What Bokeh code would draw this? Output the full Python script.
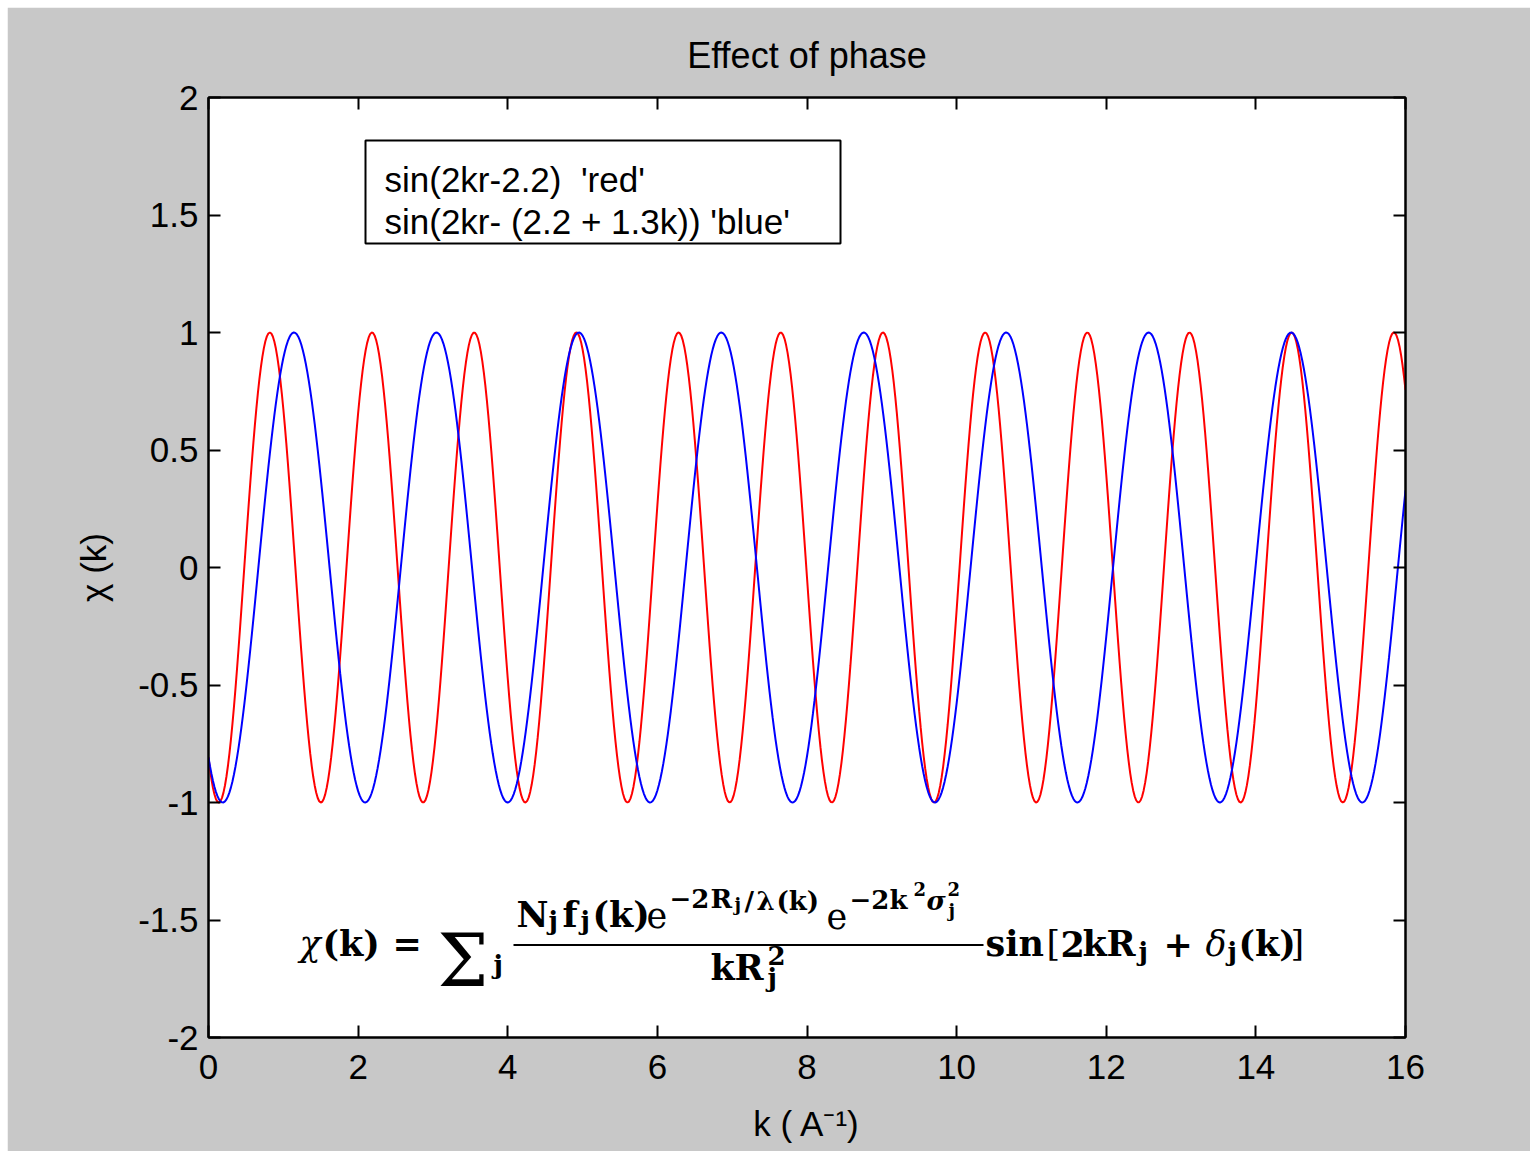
import numpy as np
from bokeh.plotting import figure
from bokeh.models import (Range1d, FixedTicker, LinearAxis, CustomJSTickFormatter,
                          Label, BoxAnnotation, ColumnDataSource)
from bokeh.embed import file_html
from bokeh.resources import INLINE

# ---------------- data ----------------
TITLE = "Effect of phase"
X_LABEL = "k ( A\u207b\u00b9)"
Y_LABEL = "\u03c7 (k)"
X_TICKS = [0, 2, 4, 6, 8, 10, 12, 14, 16]
Y_TICKS = [-2, -1.5, -1, -0.5, 0, 0.5, 1, 1.5, 2]
Y_TICK_LABELS = ["-2", "-1.5", "-1", "-0.5", "0", "0.5", "1", "1.5", "2"]
LEGEND_LINES = ["sin(2kr-2.2)\u00a0 'red'", "sin(2kr- (2.2 + 1.3k)) 'blue'"]

# parameters of the two plotted curves (as stated in the chart's legend box)
R_DIST = 2.3          # r
PHASE0 = 2.2          # constant phase
PHASE_SLOPE = 1.3     # k-dependent phase (blue)
K_MIN, K_MAX, K_STEP = 0.0, 16.0, 0.02

k = np.arange(K_MIN, K_MAX + K_STEP / 2, K_STEP)
red = np.sin(2 * k * R_DIST - PHASE0)
blue = np.sin(2 * k * R_DIST - (PHASE0 + PHASE_SLOPE * k))

# ---------------- layout ----------------
GRAY = "#c8c8c8"
FL, FR, FT, FB = 208, 1405, 97, 1037   # frame edges in page pixels
OFF = 7                                 # page margin

p = figure(frame_width=FR - FL, frame_height=FB - FT,
           min_border_left=FL - OFF, min_border_right=1530 - FR,
           min_border_top=FT - OFF, min_border_bottom=1151 - FB,
           x_range=Range1d(0, 16), y_range=Range1d(-2, 2),
           output_backend="svg", toolbar_location=None,
           background_fill_color="white", border_fill_color=GRAY,
           outline_line_color="black", outline_line_width=2)
p.margin = (OFF, OFF, OFF, OFF)
p.grid.visible = False

p.title.text = TITLE
p.title.align = "center"
p.title.text_font = "Liberation Sans"
p.title.text_font_style = "normal"
p.title.text_font_size = "36px"
p.title.text_color = "black"
p.title.standoff = 44


def style_axis(ax, ticks):
    ax.ticker = FixedTicker(ticks=ticks)
    ax.major_tick_in = 12
    ax.major_tick_out = 0
    ax.minor_tick_line_color = None
    ax.major_tick_line_width = 2
    ax.major_tick_line_color = "black"
    ax.axis_line_color = "black"
    ax.axis_line_width = 2
    ax.major_label_text_font = "Liberation Sans"
    ax.major_label_text_font_size = "35px"
    ax.major_label_text_color = "black"


style_axis(p.xaxis[0], X_TICKS)
style_axis(p.yaxis[0], Y_TICKS)
p.xaxis.major_label_standoff = 17
p.yaxis.major_label_standoff = 10
p.yaxis.major_label_overrides = {t: s for t, s in zip(Y_TICKS, Y_TICK_LABELS)}
p.xaxis.axis_label = X_LABEL
p.yaxis.axis_label = Y_LABEL
for ax in (p.xaxis[0], p.yaxis[0]):
    ax.axis_label_text_font = "Liberation Sans"
    ax.axis_label_text_font_style = "normal"
    ax.axis_label_text_font_size = "35px"
    ax.axis_label_text_color = "black"
p.xaxis.axis_label_standoff = 22
p.yaxis.axis_label_standoff = 22

blank = CustomJSTickFormatter(code="return ''")
top = LinearAxis(formatter=blank)
right = LinearAxis(formatter=blank)
style_axis(top, X_TICKS)
style_axis(right, Y_TICKS)
top.major_label_standoff = 0
right.major_label_standoff = 0
p.add_layout(top, "above")
p.add_layout(right, "right")

src = ColumnDataSource(dict(k=k, red=red, blue=blue))
p.line("k", "red", source=src, line_color="#ff0000", line_width=2)
p.line("k", "blue", source=src, line_color="#0000ff", line_width=2)


def X(px):
    return (px - FL) / (FR - FL) * 16.0


def Y(py):
    return 2.0 - (py - FT) / (FB - FT) * 4.0


# legend-like text box
p.add_layout(BoxAnnotation(left=X(365), right=X(840), top=Y(140), bottom=Y(243),
                           fill_color="white", fill_alpha=1.0,
                           line_color="black", line_alpha=1.0, line_width=2))
for i, txt in enumerate(LEGEND_LINES):
    p.add_layout(Label(x=X(384), y=Y(179 + 42 * i), text=txt,
                       text_font="Liberation Sans", text_font_size="35px",
                       text_baseline="middle", text_align="left", text_color="black"))

# EXAFS equation, laid out piece by piece (page-pixel anchor, baseline)
SER = "DejaVu Serif"
M, S, SS = 35, 26, 18
SHIFT = -13
FORMULA = [
    ("\u03c7", 299, 956, M, "italic"),
    ("(k)", 322, 956, M, "bold"),
    ("=", 392, 956, M, "bold"),
    ("\u03a3", 437, 973, 72, "normal"),
    ("j", 493, 977, S, "bold"),
    # numerator
    ("N", 516, 927, M, "bold"),
    ("j", 548, 933, S, "bold"),
    ("f", 562, 927, M, "bold"),
    ("j", 580, 933, S, "bold"),
    ("(k)", 592, 927, M, "bold"),
    ("e", 646, 927, M, "normal"),
    ("\u22122", 669, 911, S, "bold"),
    ("R", 710, 911, S, "bold"),
    ("j", 734, 917, SS, "bold"),
    ("/", 744, 913, S, "bold"),
    ("\u03bb", 756, 913, S, "bold"),
    ("(k)", 776, 913, S, "bold"),
    ("e", 826, 928, M, "normal"),
    ("\u22122", 849, 912, S, "bold"),
    ("k", 889, 912, S, "bold"),
    ("2", 913, 901, SS, "bold"),
    ("\u03c3", 926, 913, S, "bold italic"),
    ("2", 947, 901, SS, "bold"),
    ("j", 948, 923, SS, "bold"),
    # denominator
    ("k", 710, 980, M, "bold"),
    ("R", 734, 980, M, "bold"),
    ("2", 767, 968, S, "bold"),
    ("j", 767, 990, S, "bold"),
    # trailing factor
    ("sin", 985, 956, M, "bold"),
    ("[", 1046, 956, M, "normal"),
    ("2", 1060, 956, M, "bold"),
    ("k", 1082, 956, M, "bold"),
    ("R", 1106, 956, M, "bold"),
    ("j", 1138, 964, S, "bold"),
    ("+", 1163, 956, M, "bold"),
    ("\u03b4", 1205, 956, M, "italic"),
    ("j", 1227, 964, S, "bold"),
    ("(k)", 1238, 956, M, "bold"),
    ("]", 1290, 956, M, "normal"),
]
for txt, px, py, size, st in FORMULA:
    p.add_layout(Label(x=X(px), y=Y(py + SHIFT), text=txt, text_font=SER,
                       text_font_size=f"{size}px", text_font_style=st,
                       text_baseline="alphabetic", text_align="left",
                       text_color="black"))
# fraction bar
p.add_layout(BoxAnnotation(left=X(513), right=X(983), top=Y(943.5), bottom=Y(945.5),
                           fill_color="black", fill_alpha=1.0, line_color=None))

open("out.html", "w").write(file_html(p, INLINE))
